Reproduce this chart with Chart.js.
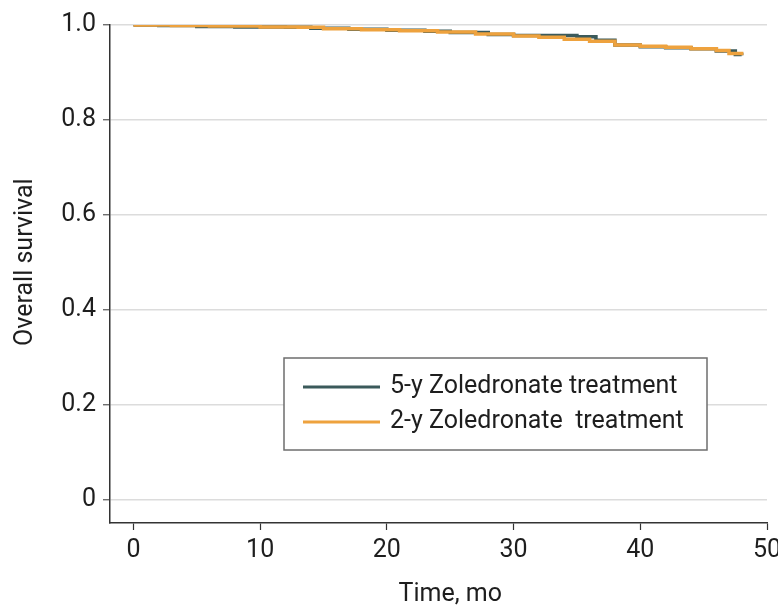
<!DOCTYPE html>
<html><head><meta charset="utf-8">
<script src="https://cdn.jsdelivr.net/npm/chart.js@4/dist/chart.umd.min.js"></script>
<style>html,body{margin:0;padding:0;background:#fff}canvas{display:block}</style>
</head><body>
<canvas id="c" width="778" height="610"></canvas>
<script>
// Data (Kaplan-Meier step curves)
const seriesLabels = ["5-y Zoledronate treatment", "2-y Zoledronate  treatment"];
const times5y = [0, 2, 5, 8, 12, 14, 17, 20, 23, 25, 28, 30, 33, 35, 36.5, 38, 40, 42, 44, 46, 47.5, 48];
const surv5y  = [1, 0.999, 0.997, 0.996, 0.995, 0.993, 0.991, 0.989, 0.987, 0.984, 0.980, 0.978, 0.978, 0.975, 0.968, 0.958, 0.954, 0.952, 0.950, 0.945, 0.938, 0.936];
const times2y = [0, 3, 6, 10, 13, 15, 18, 21, 24, 27, 30, 32, 34, 36, 38, 40, 42, 44, 46, 47, 48];
const surv2y  = [1, 0.999, 0.998, 0.996, 0.995, 0.992, 0.990, 0.988, 0.985, 0.981, 0.977, 0.974, 0.970, 0.966, 0.958, 0.955, 0.953, 0.950, 0.946, 0.940, 0.936];
const xTicks = [0, 10, 20, 30, 40, 50];
const yTicks = [0, 0.2, 0.4, 0.6, 0.8, 1.0];
const xTitle = "Time, mo";
const yTitle = "Overall survival";

const colors = ["#3b5a5b", "#eea23e"];
const FONT = "Roboto, sans-serif";
const toPts = (t, s) => t.map((v, i) => ({x: v, y: s[i]}));

const extras = {
  id: 'extras',
  afterDraw(chart) {
    const ctx = chart.ctx;
    const xs = chart.scales.x, ys = chart.scales.y;
    ctx.save();
    // axis titles centred on the data ranges
    ctx.fillStyle = '#1e1e1e';
    ctx.font = "25px " + FONT;
    ctx.textAlign = 'center';
    ctx.textBaseline = 'middle';
    ctx.fillText(xTitle, xs.getPixelForValue(25), 595);
    ctx.save();
    ctx.translate(26, ys.getPixelForValue(0.5));
    ctx.rotate(-Math.PI / 2);
    ctx.fillText(yTitle, 0, 0);
    ctx.restore();
    // legend box
    const x0 = 284, y0 = 358, w = 423, h = 92;
    ctx.fillStyle = '#fff';
    ctx.fillRect(x0, y0, w, h);
    ctx.strokeStyle = '#6e6e6e';
    ctx.lineWidth = 1.5;
    ctx.strokeRect(x0, y0, w, h);
    const rows = [387, 422];
    chart.data.datasets.forEach((ds, i) => {
      const y = rows[i];
      ctx.strokeStyle = ds.borderColor;
      ctx.lineWidth = 3;
      ctx.beginPath(); ctx.moveTo(303, y); ctx.lineTo(380, y); ctx.stroke();
      ctx.fillStyle = '#1e1e1e';
      ctx.font = "25px " + FONT;
      ctx.textAlign = 'left';
      ctx.textBaseline = 'middle';
      ctx.fillText(ds.label, 390, y);
    });
    ctx.restore();
  }
};

new Chart(document.getElementById('c'), {
  type: 'line',
  data: {
    datasets: [
      {label: seriesLabels[0], data: toPts(times5y, surv5y), borderColor: colors[0], backgroundColor: colors[0], borderWidth: 3.5, pointRadius: 0, stepped: 'before', order: 1},
      {label: seriesLabels[1], data: toPts(times2y, surv2y), borderColor: colors[1], backgroundColor: colors[1], borderWidth: 3.5, pointRadius: 0, stepped: 'before', order: 0}
    ]
  },
  options: {
    responsive: false,
    animation: false,
    layout: {padding: {left: 0, top: 25, right: 11, bottom: 0}},
    plugins: {legend: {display: false}, tooltip: {enabled: false}},
    scales: {
      x: {
        type: 'linear', min: -1.85, max: 50,
        afterBuildTicks: s => { s.ticks = xTicks.map(v => ({value: v})); },
        afterFit: s => { s.height = 87; s.paddingLeft = 0; s.paddingRight = 0; },
        border: {display: true, color: '#333', width: 1.5},
        grid: {drawOnChartArea: false, drawTicks: true, tickLength: 7, tickColor: '#333', tickWidth: 1.2},
        ticks: {font: {family: FONT, size: 25}, color: '#1e1e1e', padding: 6, maxRotation: 0},
        title: {display: false}
      },
      y: {
        type: 'linear', min: -0.05, max: 1.0,
        afterBuildTicks: s => { s.ticks = yTicks.map(v => ({value: v})); },
        afterFit: s => { s.width = 110; s.paddingTop = 0; s.paddingBottom = 0; },
        border: {display: true, color: '#333', width: 1.5},
        grid: {color: '#dcdcdc', lineWidth: 1.5, drawTicks: true, tickLength: 7, tickColor: '#555', tickWidth: 1.2},
        ticks: {font: {family: FONT, size: 25}, color: '#1e1e1e', padding: 7,
                callback: v => v === 0 ? '0' : v.toFixed(1)},
        title: {display: false}
      }
    }
  },
  plugins: [extras]
});
</script>
</body></html>
